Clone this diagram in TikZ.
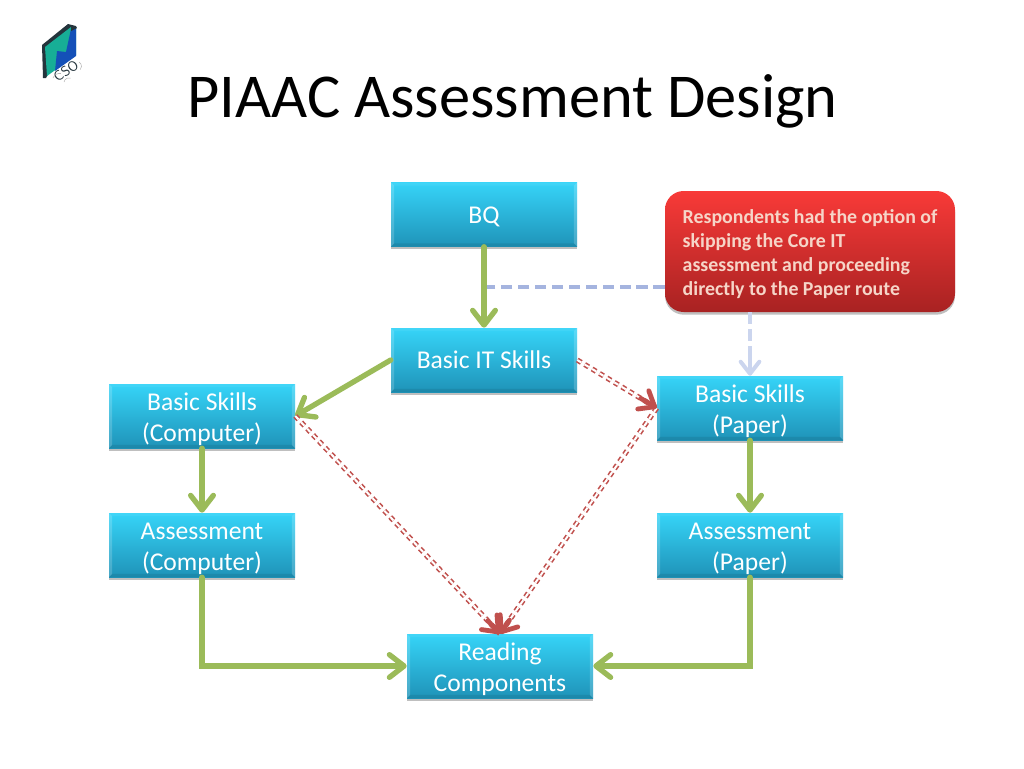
\documentclass[tikz,border=0pt]{standalone}
\usepackage{fontspec}
\setmainfont{Carlito}
\usetikzlibrary{arrows.meta,calc,shadows}

\definecolor{boxtop}{HTML}{36D4F8}
\definecolor{boxbottom}{HTML}{1F93B8}
\definecolor{redtop}{HTML}{F83A38}
\definecolor{redbottom}{HTML}{A82222}
\definecolor{linkgreen}{HTML}{9BBB59}
\definecolor{linkred}{HTML}{C0504D}
\definecolor{linkblue}{HTML}{A5B4DF}
\definecolor{linkpale}{HTML}{CBD5EE}
\definecolor{notetext}{HTML}{F6D5C8}
\definecolor{logoteal}{HTML}{17AE96}
\definecolor{logoblue}{HTML}{1450B8}
\definecolor{logodark}{HTML}{24343C}

\newcommand\firstline[1]{\rule{0pt}{#1}}

\tikzset{
    bevel/.style={
        path picture={
            \coordinate (nw) at (path picture bounding box.north west);
            \coordinate (ne) at (path picture bounding box.north east);
            \coordinate (sw) at (path picture bounding box.south west);
            \coordinate (se) at (path picture bounding box.south east);
            \fill[white,opacity=.18] (nw) -- ([shift={(2.4pt,-2.4pt)}]nw) -- ([shift={(2.4pt,2.4pt)}]sw) -- (sw) -- cycle;
            \fill[white,opacity=.18] (ne) -- ([shift={(-2.4pt,-2.4pt)}]ne) -- ([shift={(-2.4pt,2.4pt)}]se) -- (se) -- cycle;
            \fill[white,opacity=.06] (nw) -- ([shift={(2.4pt,-2.4pt)}]nw) -- ([shift={(-2.4pt,-2.4pt)}]ne) -- (ne) -- cycle;
            \fill[black,opacity=.08] (sw) -- ([shift={(2.4pt,2.4pt)}]sw) -- ([shift={(-2.4pt,2.4pt)}]se) -- (se) -- cycle;
        }
    },
    bluebox/.style={
        bevel, top color=boxtop, bottom color=boxbottom, text=white,
        minimum width=139.5pt, minimum height=48pt, inner sep=0pt, align=center,
        font=\fontsize{19.2}{23.2}\selectfont,
        drop shadow={shadow xshift=0pt, shadow yshift=-2pt, opacity=.25, fill=black}
    },
    notebox/.style={
        top color=redtop, bottom color=redbottom, text=notetext, rounded corners=14pt,
        minimum width=217.5pt, minimum height=90.75pt, inner sep=0pt, align=left,
        font=\fontsize{14.9}{18}\selectfont\bfseries,
        drop shadow={shadow xshift=0pt, shadow yshift=-2pt, opacity=.25, fill=black}
    },
    greenlink/.style={
        draw=linkgreen, line width=4pt, line cap=round,
        -{Straight Barb[round, length=11pt, width=17pt, line width=0pt 1 1]}
    },
    redlink/.style={draw=linkred, line width=1.2pt, double=white, double distance=1.5pt, dash pattern=on 3.5pt off 3pt},
    redtip/.style={
        draw=linkred, line width=3.6pt, line cap=round,
        -{Straight Barb[round, length=10pt, width=16pt, line width=0pt 1 1]}
    },
    bluelink/.style={draw=linkblue, line width=3pt, dash pattern=on 8.5pt off 4.2pt},
    palelink/.style={
        draw=linkpale, line width=3pt, dash pattern=on 8.5pt off 4.2pt
    },
    paletip/.style={
        draw=linkpale, line width=3pt, line cap=round,
        -{Straight Barb[round, length=9pt, width=14pt, line width=0pt 1 1]}
    }
}

\begin{document}
\begin{tikzpicture}[x=.75pt,y=-.75pt]

\useasboundingbox (0,0) rectangle (1024,768);

\node[anchor=base west, inner sep=0pt, font=\fontsize{46.8}{50}\selectfont] (title) at (187,117) {PIAAC Assessment Design};

\fill[logodark] (42,45) -- (68,24) -- (76,26) -- (46,78) -- (43,78) -- cycle;
\fill[logoteal] (45,47) -- (71,27) -- (76,27) -- (76,55) -- (47,76) -- cycle;
\fill[logoblue] (76,27) -- (76,56) -- (55,71) -- (57,51) -- (66,52) -- (71,29) -- cycle;
\fill[logodark] (71,27) -- (76,26) -- (77,28) -- (71,31) -- cycle;
\node[rotate=35, inner sep=0pt, text=logodark, font=\sffamily\fontsize{10.5}{11}\selectfont\addfontfeatures{LetterSpace=12}] (logotext) at (66,71) {CSO};
\draw[gray!60, line width=.4pt] (53,78) arc (200:280:7);
\draw[gray!60, line width=.4pt] (79,62) arc (-60:40:5);
\draw[gray!60, line width=.4pt] (64,82) arc (190:290:5);

\node[bluebox] (bq) at (484,214.5) {\firstline{16pt}BQ};
\node[bluebox] (itskills) at (484,360) {Basic IT Skills};
\node[bluebox] (compskills) at (202,416) {\firstline{17.5pt}Basic Skills\\(Computer)};
\node[bluebox] (paperskills) at (750,408) {\firstline{17.5pt}Basic Skills\\(Paper)};
\node[bluebox] (compassess) at (202,545) {\firstline{17.5pt}Assessment\\(Computer)};
\node[bluebox] (paperassess) at (750,545) {\firstline{17.5pt}Assessment\\(Paper)};
\node[bluebox] (reading) at (500,666) {\firstline{17.5pt}Reading\\Components};
\node[notebox] (note) at (810,251.5) {\firstline{14pt}Respondents had the option of\\skipping the Core IT\\assessment and proceeding\\directly to the Paper route};

\coordinate (skipend) at (480,287);

\draw[bluelink] (note.west |- skipend) -- (skipend);
\draw[palelink] (paperskills.north |- note.south) -- ([yshift=10pt]paperskills.north);
\draw[paletip] ([yshift=14pt]paperskills.north) -- (paperskills.north);

\foreach \linkfrom/\linkto in {bq.south/itskills.north, itskills.west/compskills.east, compskills.south/compassess.north, paperskills.south/paperassess.north}
    \draw[greenlink] (\linkfrom) -- (\linkto);

\draw[greenlink] (compassess.south) |- (reading.west);
\draw[greenlink] (paperassess.south) |- (reading.east);

\foreach \linkfrom/\linkto in {itskills.east/paperskills.west, compskills.east/reading.north, paperskills.west/reading.north}
    \draw[redlink] (\linkfrom) -- (\linkto);

\draw[redtip] ($(itskills.east)!.8!(paperskills.west)$) -- (paperskills.west);
\draw[redtip] ($(compskills.east)!.94!(reading.north)$) -- (reading.north);
\draw[redtip] ($(paperskills.west)!.94!(reading.north)$) -- (reading.north);

\end{tikzpicture}
\end{document}
